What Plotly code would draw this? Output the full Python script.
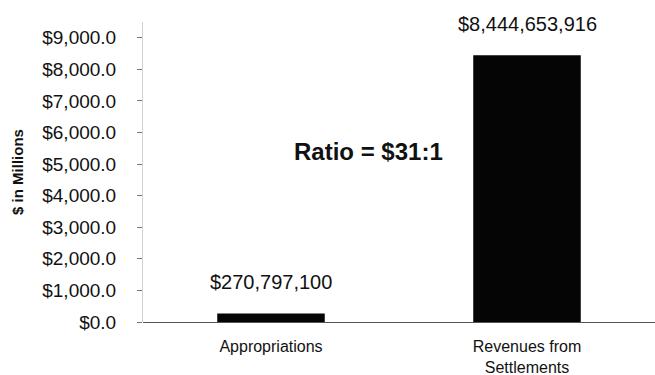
import plotly.graph_objects as go

categories = ["Appropriations", "Revenues from<br>Settlements"]
values_millions = [270.797100, 8444.653916]
value_labels = ["$270,797,100", "$8,444,653,916"]
ratio_text = "Ratio = $31:1"
y_title = "$ in Millions"
y_ticks = [0, 1000, 2000, 3000, 4000, 5000, 6000, 7000, 8000, 9000]

FONT = "Liberation Sans, Arial, sans-serif"

fig = go.Figure()
fig.add_trace(go.Bar(
    x=categories, y=values_millions,
    marker=dict(color="#050505", line=dict(width=0)),
    width=0.42,
))

for c, v, t in zip(categories, values_millions, value_labels):
    fig.add_annotation(x=c, y=v, text=t, showarrow=False, yanchor="middle",
                       yshift=31, font=dict(family=FONT, size=20, color="#111"))

fig.add_annotation(x=0.38, y=5400, text="<b>" + ratio_text + "</b>", showarrow=False,
                   font=dict(family=FONT, size=24, color="#111"))

fig.update_layout(
    width=655, height=375,
    margin=dict(l=143, r=0, t=22, b=53),
    paper_bgcolor="white", plot_bgcolor="white",
    showlegend=False,
    font=dict(family=FONT, color="#111"),
    xaxis=dict(
        range=[-0.5, 1.5], showgrid=False, zeroline=False,
        showline=False, ticks="", ticklabelstandoff=13,
        tickfont=dict(size=16, color="#111"),
    ),
    yaxis=dict(
        range=[0, 9500], tickvals=y_ticks, tickformat="$,.1f",
        showgrid=False, zeroline=True, zerolinecolor="#555", zerolinewidth=1,
        showline=True, linecolor="#d0d0d0", linewidth=1,
        ticks="outside", ticklen=5, tickcolor="#777",
        ticklabelstandoff=17,
        tickfont=dict(size=19, color="#111"),
        title=dict(text="<b>" + y_title + "</b>", font=dict(size=15, color="#111"), standoff=14),
    ),
)

fig.write_html("out.html")
